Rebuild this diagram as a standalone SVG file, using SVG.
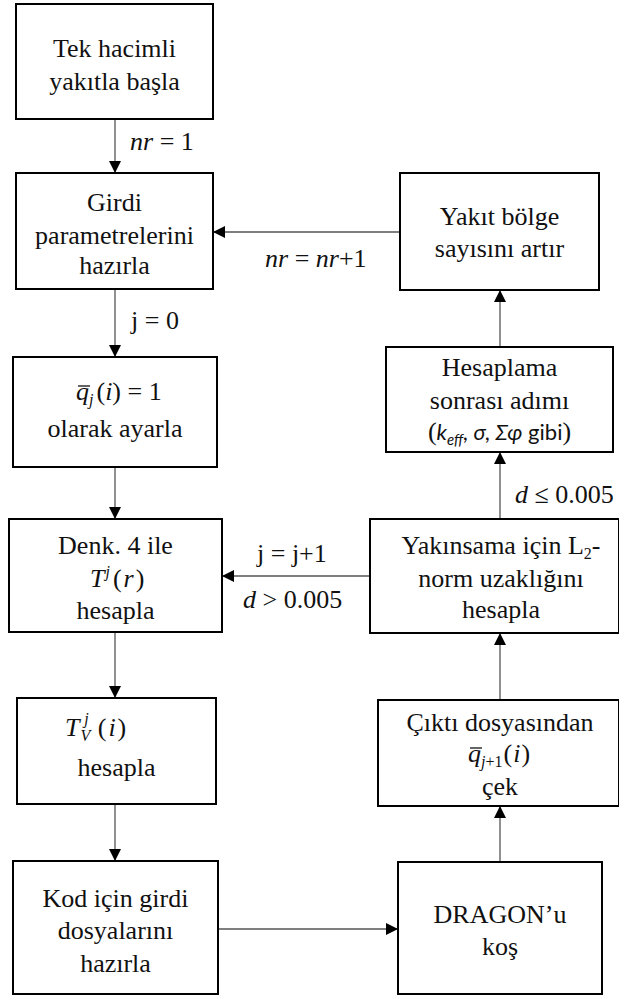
<svg xmlns="http://www.w3.org/2000/svg" width="619" height="996" viewBox="0 0 619 996">
<style>
.box{fill:#fff;stroke:#000;stroke-width:2}
.t{font-family:"Liberation Serif","Times New Roman",serif;font-size:26px;fill:#111}
.c{text-anchor:middle}
.i{font-style:italic}
.sub{font-size:16px}
.sans{font-family:Lato,"Noto Sans",sans-serif;font-size:22px}
.ln{stroke:#555;stroke-width:1.3;fill:none;marker-end:url(#ah)}
.bar{stroke:#111;stroke-width:1.3}
</style>
<defs>
<marker id="ah" markerUnits="userSpaceOnUse" markerWidth="12" markerHeight="12" refX="12" refY="6" orient="auto">
<path d="M0,0 L12,6 L0,12 z" fill="#000"/>
</marker>
</defs>
<rect width="619" height="996" fill="#fff"/>

<g id="connectors">
<line class="ln" x1="115" y1="119" x2="115" y2="173"/>
<line class="ln" x1="115" y1="289" x2="115" y2="357"/>
<line class="ln" x1="115" y1="467" x2="115" y2="519"/>
<line class="ln" x1="115" y1="632" x2="115" y2="698"/>
<line class="ln" x1="115" y1="804" x2="115" y2="861"/>
<line class="ln" x1="218" y1="929" x2="398" y2="929"/>
<line class="ln" x1="500" y1="862" x2="500" y2="806"/>
<line class="ln" x1="500" y1="700" x2="500" y2="633"/>
<line class="ln" x1="370" y1="576" x2="222" y2="576"/>
<line class="ln" x1="500" y1="519" x2="500" y2="452"/>
<line class="ln" x1="500" y1="347" x2="500" y2="290"/>
<line class="ln" x1="400" y1="232" x2="213" y2="232"/>
<text class="t" x="130" y="150"><tspan class="i">nr</tspan> = 1</text>
<text class="t" x="131" y="329">j = 0</text>
<text class="t" x="257" y="562">j = j+1</text>
<text class="t" x="243" y="608"><tspan class="i">d</tspan> &gt; 0.005</text>
<text class="t" x="515" y="503"><tspan class="i">d</tspan> ≤ 0.005</text>
<text class="t" x="265" y="267"><tspan class="i">nr</tspan> = <tspan class="i">nr</tspan>+1</text>
</g>

<g id="start">
<rect class="box" x="16" y="4" width="197" height="115"/>
<text class="t c" x="114.5" y="57">Tek hacimli</text>
<text class="t c" x="114.5" y="90">yakıtla başla</text>
</g>

<g id="input-params">
<rect class="box" x="16" y="173" width="197" height="116"/>
<text class="t c" x="114.5" y="211">Girdi</text>
<text class="t c" x="114.5" y="244">parametrelerini</text>
<text class="t c" x="114.5" y="274">hazırla</text>
</g>

<g id="set-q">
<rect class="box" x="13" y="357" width="204" height="110"/>
<line class="bar" x1="78" y1="386" x2="90" y2="386"/>
<text class="t" x="76" y="400"><tspan class="i">q</tspan><tspan class="i sub" dy="5">j</tspan><tspan dy="-5" dx="3">(</tspan><tspan class="i">i</tspan>) = 1</text>
<text class="t c" x="115" y="437">olarak ayarla</text>
</g>

<g id="calc-T">
<rect class="box" x="9" y="519" width="213" height="113"/>
<text class="t c" x="115.5" y="554">Denk. 4 ile</text>
<text class="t" x="90" y="587"><tspan class="i">T</tspan><tspan class="i sub" dy="-10" dx="1">j</tspan><tspan dy="10" dx="3">(</tspan><tspan class="i" dx="2">r</tspan><tspan dx="2">)</tspan></text>
<text class="t c" x="115.5" y="619">hesapla</text>
</g>

<g id="calc-TV">
<rect class="box" x="17" y="698" width="199" height="106"/>
<text class="t" x="65" y="736"><tspan class="i">T</tspan><tspan class="i sub" dy="5" dx="1">V</tspan><tspan class="i sub" dx="-6" dy="-17">j</tspan><tspan dy="12" dx="9">(</tspan><tspan class="i" dx="2">i</tspan><tspan dx="2">)</tspan></text>
<text class="t c" x="116.5" y="776">hesapla</text>
</g>

<g id="prepare-files">
<rect class="box" x="13" y="861" width="205" height="133"/>
<text class="t c" x="115.5" y="907">Kod için girdi</text>
<text class="t c" x="115.5" y="939">dosyalarını</text>
<text class="t c" x="115.5" y="972">hazırla</text>
</g>

<g id="run-dragon">
<rect class="box" x="398" y="862" width="204" height="132"/>
<text class="t c" x="500" y="923">DRAGON’u</text>
<text class="t c" x="500" y="955">koş</text>
</g>

<g id="extract-q">
<rect class="box" x="378" y="700" width="241" height="106"/>
<text class="t c" x="500" y="731">Çıktı dosyasından</text>
<line class="bar" x1="470" y1="748" x2="482" y2="748"/>
<text class="t" x="468" y="762"><tspan class="i">q</tspan><tspan class="i sub" dy="5">j</tspan><tspan class="sub">+1</tspan><tspan dy="-5" dx="1">(</tspan><tspan class="i" dx="1">i</tspan><tspan dx="1">)</tspan></text>
<text class="t c" x="500" y="795">çek</text>
</g>

<g id="convergence">
<rect class="box" x="370" y="519" width="249" height="114"/>
<text class="t c" x="501" y="554">Yakınsama için L<tspan class="sub" dy="5">2</tspan><tspan dy="-5">-</tspan></text>
<text class="t c" x="501" y="587">norm uzaklığını</text>
<text class="t c" x="501" y="618">hesapla</text>
</g>

<g id="post-processing">
<rect class="box" x="386" y="347" width="227" height="105"/>
<text class="t c" x="499.5" y="376">Hesaplama</text>
<text class="t c" x="499.5" y="409">sonrası adımı</text>
<text class="t c" x="499.5" y="440">(<tspan class="sans i">k</tspan><tspan class="sans i" style="font-size:15px" dy="5">eff</tspan><tspan class="sans i" dy="-5">, σ, Σφ</tspan><tspan class="sans"> gibi</tspan>)</text>
</g>

<g id="increase-regions">
<rect class="box" x="400" y="173" width="199" height="117"/>
<text class="t c" x="499.5" y="225">Yakıt bölge</text>
<text class="t c" x="499.5" y="257">sayısını artır</text>
</g>
</svg>
